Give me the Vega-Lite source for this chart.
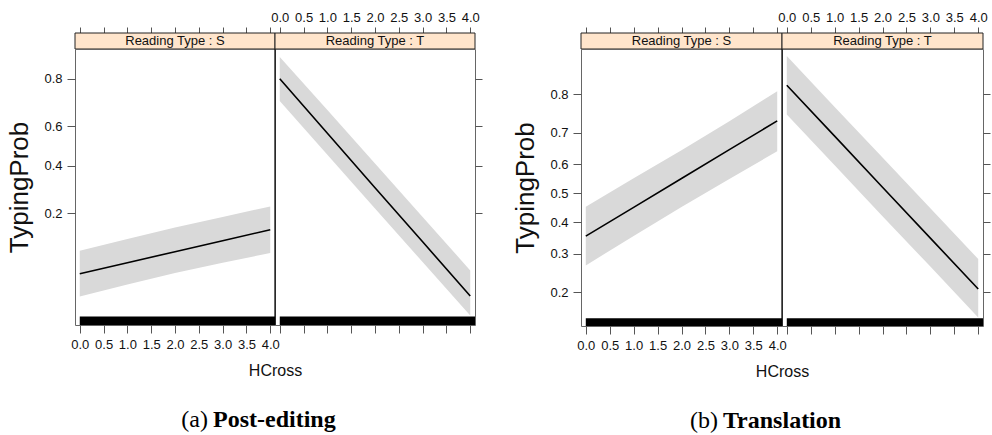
{
  "$schema": "https://vega.github.io/schema/vega-lite/v6.json",
  "background": "white",
  "padding": {"left": 6, "top": 11, "right": 0, "bottom": 0},
  "config": {
    "font": "Liberation Sans",
    "view": {"stroke": "#666", "strokeWidth": 1},
    "axis": {"grid": false, "domain": false, "labelFont": "Liberation Sans", "labelFontSize": 13, "labelColor": "#111", "tickColor": "#555", "tickSize": 7, "labelPadding": 4, "titleFont": "Liberation Sans", "titleFontWeight": "normal", "titleColor": "#111", "labelFlush": false, "labelOverlap": false}
  },
  "datasets": {
    "effects": [
      {"fig": "a", "panel": "S", "HCross": 0, "logit_TypingProb": -2.627, "logit_lower": -3.094, "logit_upper": -2.153},
      {"fig": "a", "panel": "S", "HCross": 1, "logit_TypingProb": -2.4, "logit_lower": -2.85, "logit_upper": -1.91},
      {"fig": "a", "panel": "S", "HCross": 2, "logit_TypingProb": -2.174, "logit_lower": -2.612, "logit_upper": -1.674},
      {"fig": "a", "panel": "S", "HCross": 3, "logit_TypingProb": -1.95, "logit_lower": -2.4, "logit_upper": -1.46},
      {"fig": "a", "panel": "S", "HCross": 4, "logit_TypingProb": -1.721, "logit_lower": -2.201, "logit_upper": -1.242},
      {"fig": "a", "panel": "T", "HCross": 0, "logit_TypingProb": 1.386, "logit_lower": 0.927, "logit_upper": 1.832},
      {"fig": "a", "panel": "T", "HCross": 1, "logit_TypingProb": 0.265, "logit_lower": -0.18, "logit_upper": 0.74},
      {"fig": "a", "panel": "T", "HCross": 2, "logit_TypingProb": -0.857, "logit_lower": -1.287, "logit_upper": -0.357},
      {"fig": "a", "panel": "T", "HCross": 3, "logit_TypingProb": -1.97, "logit_lower": -2.386, "logit_upper": -1.458},
      {"fig": "a", "panel": "T", "HCross": 4, "logit_TypingProb": -3.086, "logit_lower": -3.485, "logit_upper": -2.559},
      {"fig": "b", "panel": "S", "HCross": 0, "logit_TypingProb": -0.602, "logit_lower": -1.013, "logit_upper": -0.19},
      {"fig": "b", "panel": "S", "HCross": 1, "logit_TypingProb": -0.2, "logit_lower": -0.6, "logit_upper": 0.21},
      {"fig": "b", "panel": "S", "HCross": 2, "logit_TypingProb": 0.206, "logit_lower": -0.193, "logit_upper": 0.602},
      {"fig": "b", "panel": "S", "HCross": 3, "logit_TypingProb": 0.61, "logit_lower": 0.2, "logit_upper": 1.01},
      {"fig": "b", "panel": "S", "HCross": 4, "logit_TypingProb": 1.014, "logit_lower": 0.588, "logit_upper": 1.429},
      {"fig": "b", "panel": "T", "HCross": 0, "logit_TypingProb": 1.513, "logit_lower": 1.102, "logit_upper": 1.924},
      {"fig": "b", "panel": "T", "HCross": 1, "logit_TypingProb": 0.8, "logit_lower": 0.39, "logit_upper": 1.21},
      {"fig": "b", "panel": "T", "HCross": 2, "logit_TypingProb": 0.084, "logit_lower": -0.322, "logit_upper": 0.5},
      {"fig": "b", "panel": "T", "HCross": 3, "logit_TypingProb": -0.63, "logit_lower": -1.03, "logit_upper": -0.21},
      {"fig": "b", "panel": "T", "HCross": 4, "logit_TypingProb": -1.345, "logit_lower": -1.745, "logit_upper": -0.924}
    ]
  },
  "hconcat": [
    {
      "vconcat": [
        {
          "concat": [
            {
              "width": 200, "height": 16,
              "view": {"stroke": null},
              "data": {"values": [{"strip": "Reading Type : S"}]},
              "layer": [
                {"mark": {"type": "rect", "fill": "#ffe5cc", "stroke": "#222", "strokeWidth": 1},
                 "encoding": {
                   "x": {"datum": -0.1, "type": "quantitative", "scale": {"domain": [-0.1, 4.1], "nice": false, "zero": false},
                         "axis": {"orient": "top", "values": [0, 0.5, 1, 1.5, 2, 2.5, 3, 3.5, 4], "tickCount": 9, "labels": false, "tickSize": 6, "title": null}},
                   "x2": {"datum": 4.1}
                 }},
                {"mark": {"type": "text", "font": "Liberation Sans", "fontSize": 13, "color": "#111"},
                 "encoding": {"x": {"datum": 2, "type": "quantitative"}, "text": {"field": "strip"}}}
              ]
            },
            {
              "width": 200, "height": 16,
              "view": {"stroke": null},
              "data": {"values": [{"strip": "Reading Type : T"}]},
              "layer": [
                {"mark": {"type": "rect", "fill": "#ffe5cc", "stroke": "#222", "strokeWidth": 1},
                 "encoding": {
                   "x": {"datum": -0.1, "type": "quantitative", "scale": {"domain": [-0.1, 4.1], "nice": false, "zero": false},
                         "axis": {"orient": "top", "values": [0, 0.5, 1, 1.5, 2, 2.5, 3, 3.5, 4], "tickCount": 9, "format": ".1f", "tickSize": 6, "labelPadding": 3, "labelOverlap": false, "labelFlush": false, "title": null}},
                   "x2": {"datum": 4.1}
                 }},
                {"mark": {"type": "text", "font": "Liberation Sans", "fontSize": 13, "color": "#111"},
                 "encoding": {"x": {"datum": 2, "type": "quantitative"}, "text": {"field": "strip"}}}
              ]
            },
            {
              "width": 200, "height": 276,
              "layer": [
                {"data": {"name": "effects"}, "transform": [{"filter": "datum.fig == 'a' && datum.panel == 'S'"}],
                 "mark": {"type": "area", "color": "#d9d9d9", "opacity": 1},
                 "encoding": {
                   "x": {"field": "HCross", "type": "quantitative", "scale": {"domain": [-0.1, 4.1], "nice": false, "zero": false},
                         "axis": {"orient": "bottom", "values": [0, 0.5, 1, 1.5, 2, 2.5, 3, 3.5, 4], "tickCount": 9, "format": ".1f", "tickSize": 8, "labelPadding": 5, "labelOverlap": false, "labelFlush": false, "title": "HCross", "titleFontSize": 16, "titleX": 200, "titleAlign": "center", "titlePadding": 11}},
                   "y": {"field": "logit_lower", "type": "quantitative", "title": "TypingProb", "scale": {"domain": [-3.682, 1.997], "nice": false, "zero": false},
                         "axis": {"orient": "left", "values": [-1.3863, -0.4055, 0.4055, 1.3863], "labelExpr": "format(1/(1+exp(-datum.value)), '.1f')", "labelOverlap": false, "tickSize": 8, "labelPadding": 5, "titleFontSize": 26, "titlePadding": 11}},
                   "y2": {"field": "logit_upper"}
                 }},
                {"data": {"name": "effects"}, "transform": [{"filter": "datum.fig == 'a' && datum.panel == 'S'"}],
                 "mark": {"type": "line", "color": "#000", "strokeWidth": 1.6},
                 "encoding": {
                   "x": {"field": "HCross", "type": "quantitative", "title": "HCross"},
                   "y": {"field": "logit_TypingProb", "type": "quantitative", "title": "TypingProb"}
                 }},
                {"data": {"values": [{"rug": "HCross"}]},
                 "mark": {"type": "rect", "color": "#000"},
                 "encoding": {
                   "x": {"datum": 0, "type": "quantitative"}, "x2": {"datum": 4.1},
                   "y": {"datum": -3.682, "type": "quantitative"}, "y2": {"datum": -3.505}
                 }}
              ]
            },
            {
              "width": 200, "height": 276,
              "layer": [
                {"data": {"name": "effects"}, "transform": [{"filter": "datum.fig == 'a' && datum.panel == 'T'"}],
                 "mark": {"type": "area", "color": "#d9d9d9", "opacity": 1},
                 "encoding": {
                   "x": {"field": "HCross", "type": "quantitative", "scale": {"domain": [-0.1, 4.1], "nice": false, "zero": false},
                         "axis": {"orient": "bottom", "values": [0, 0.5, 1, 1.5, 2, 2.5, 3, 3.5, 4], "tickCount": 9, "labels": false, "tickSize": 8, "title": null}},
                   "y": {"field": "logit_lower", "type": "quantitative", "scale": {"domain": [-3.682, 1.997], "nice": false, "zero": false},
                         "axis": {"orient": "right", "values": [-1.3863, -0.4055, 0.4055, 1.3863], "labels": false, "tickSize": 7, "title": null}},
                   "y2": {"field": "logit_upper"}
                 }},
                {"data": {"name": "effects"}, "transform": [{"filter": "datum.fig == 'a' && datum.panel == 'T'"}],
                 "mark": {"type": "line", "color": "#000", "strokeWidth": 1.6},
                 "encoding": {
                   "x": {"field": "HCross", "type": "quantitative"},
                   "y": {"field": "logit_TypingProb", "type": "quantitative"}
                 }},
                {"data": {"values": [{"rug": "HCross"}]},
                 "mark": {"type": "rect", "color": "#000"},
                 "encoding": {
                   "x": {"datum": 0, "type": "quantitative"}, "x2": {"datum": 4.1},
                   "y": {"datum": -3.682, "type": "quantitative"}, "y2": {"datum": -3.505}
                 }},
                {"data": {"values": [{"divider": "panel"}]},
                 "mark": {"type": "rule", "color": "#000", "strokeWidth": 1.2},
                 "encoding": {"x": {"datum": -0.1, "type": "quantitative"}}}
              ]
            }
          ],
          "columns": 2,
          "spacing": {"row": 0, "column": 0},
          "bounds": "flush",
          "align": "each"
        },
        {
          "width": 400, "height": 30,
          "view": {"stroke": null},
          "data": {"values": [{"caption": "(a)", "part": "label"}, {"caption": "Post-editing", "part": "name"}]},
          "layer": [
            {"transform": [{"filter": "datum.part == 'label'"}],
             "mark": {"type": "text", "align": "right", "dx": -3, "font": "Liberation Serif", "fontSize": 24, "color": "#000"},
             "encoding": {"x": {"datum": 0.34, "type": "quantitative", "scale": {"domain": [0, 1]}, "axis": null}, "text": {"field": "caption"}}},
            {"transform": [{"filter": "datum.part == 'name'"}],
             "mark": {"type": "text", "align": "left", "dx": 2, "font": "Liberation Serif", "fontSize": 24, "fontWeight": "bold", "color": "#000"},
             "encoding": {"x": {"datum": 0.34, "type": "quantitative"}, "text": {"field": "caption"}}}
          ]
        }
      ],
      "spacing": 26
    },
    {
      "vconcat": [
        {
          "concat": [
            {
              "width": 201, "height": 16,
              "view": {"stroke": null},
              "data": {"values": [{"strip": "Reading Type : S"}]},
              "layer": [
                {"mark": {"type": "rect", "fill": "#ffe5cc", "stroke": "#222", "strokeWidth": 1},
                 "encoding": {
                   "x": {"datum": -0.1, "type": "quantitative", "scale": {"domain": [-0.1, 4.1], "nice": false, "zero": false},
                         "axis": {"orient": "top", "values": [0, 0.5, 1, 1.5, 2, 2.5, 3, 3.5, 4], "tickCount": 9, "labels": false, "tickSize": 6, "title": null}},
                   "x2": {"datum": 4.1}
                 }},
                {"mark": {"type": "text", "font": "Liberation Sans", "fontSize": 13, "color": "#111"},
                 "encoding": {"x": {"datum": 2, "type": "quantitative"}, "text": {"field": "strip"}}}
              ]
            },
            {
              "width": 201, "height": 16,
              "view": {"stroke": null},
              "data": {"values": [{"strip": "Reading Type : T"}]},
              "layer": [
                {"mark": {"type": "rect", "fill": "#ffe5cc", "stroke": "#222", "strokeWidth": 1},
                 "encoding": {
                   "x": {"datum": -0.1, "type": "quantitative", "scale": {"domain": [-0.1, 4.1], "nice": false, "zero": false},
                         "axis": {"orient": "top", "values": [0, 0.5, 1, 1.5, 2, 2.5, 3, 3.5, 4], "tickCount": 9, "format": ".1f", "tickSize": 6, "labelPadding": 3, "labelOverlap": false, "labelFlush": false, "title": null}},
                   "x2": {"datum": 4.1}
                 }},
                {"mark": {"type": "text", "font": "Liberation Sans", "fontSize": 13, "color": "#111"},
                 "encoding": {"x": {"datum": 2, "type": "quantitative"}, "text": {"field": "strip"}}}
              ]
            },
            {
              "width": 201, "height": 277,
              "layer": [
                {"data": {"name": "effects"}, "transform": [{"filter": "datum.fig == 'b' && datum.panel == 'S'"}],
                 "mark": {"type": "area", "color": "#d9d9d9", "opacity": 1},
                 "encoding": {
                   "x": {"field": "HCross", "type": "quantitative", "scale": {"domain": [-0.1, 4.1], "nice": false, "zero": false},
                         "axis": {"orient": "bottom", "values": [0, 0.5, 1, 1.5, 2, 2.5, 3, 3.5, 4], "tickCount": 9, "format": ".1f", "tickSize": 8, "labelPadding": 5, "labelOverlap": false, "labelFlush": false, "title": "HCross", "titleFontSize": 16, "titleX": 201, "titleAlign": "center", "titlePadding": 11}},
                   "y": {"field": "logit_lower", "type": "quantitative", "title": "TypingProb", "scale": {"domain": [-1.863, 2.022], "nice": false, "zero": false},
                         "axis": {"orient": "left", "values": [-1.3863, -0.8473, -0.4055, 0, 0.4055, 0.8473, 1.3863], "tickCount": 7, "labelExpr": "format(1/(1+exp(-datum.value)), '.1f')", "labelOverlap": false, "tickSize": 8, "labelPadding": 5, "titleFontSize": 26, "titlePadding": 11}},
                   "y2": {"field": "logit_upper"}
                 }},
                {"data": {"name": "effects"}, "transform": [{"filter": "datum.fig == 'b' && datum.panel == 'S'"}],
                 "mark": {"type": "line", "color": "#000", "strokeWidth": 1.6},
                 "encoding": {
                   "x": {"field": "HCross", "type": "quantitative", "title": "HCross"},
                   "y": {"field": "logit_TypingProb", "type": "quantitative", "title": "TypingProb"}
                 }},
                {"data": {"values": [{"rug": "HCross"}]},
                 "mark": {"type": "rect", "color": "#000"},
                 "encoding": {
                   "x": {"datum": 0, "type": "quantitative"}, "x2": {"datum": 4.1},
                   "y": {"datum": -1.863, "type": "quantitative"}, "y2": {"datum": -1.755}
                 }}
              ]
            },
            {
              "width": 201, "height": 277,
              "layer": [
                {"data": {"name": "effects"}, "transform": [{"filter": "datum.fig == 'b' && datum.panel == 'T'"}],
                 "mark": {"type": "area", "color": "#d9d9d9", "opacity": 1},
                 "encoding": {
                   "x": {"field": "HCross", "type": "quantitative", "scale": {"domain": [-0.1, 4.1], "nice": false, "zero": false},
                         "axis": {"orient": "bottom", "values": [0, 0.5, 1, 1.5, 2, 2.5, 3, 3.5, 4], "tickCount": 9, "labels": false, "tickSize": 8, "title": null}},
                   "y": {"field": "logit_lower", "type": "quantitative", "scale": {"domain": [-1.863, 2.022], "nice": false, "zero": false},
                         "axis": {"orient": "right", "values": [-1.3863, -0.8473, -0.4055, 0, 0.4055, 0.8473, 1.3863], "tickCount": 7, "labels": false, "tickSize": 7, "title": null}},
                   "y2": {"field": "logit_upper"}
                 }},
                {"data": {"name": "effects"}, "transform": [{"filter": "datum.fig == 'b' && datum.panel == 'T'"}],
                 "mark": {"type": "line", "color": "#000", "strokeWidth": 1.6},
                 "encoding": {
                   "x": {"field": "HCross", "type": "quantitative"},
                   "y": {"field": "logit_TypingProb", "type": "quantitative"}
                 }},
                {"data": {"values": [{"rug": "HCross"}]},
                 "mark": {"type": "rect", "color": "#000"},
                 "encoding": {
                   "x": {"datum": 0, "type": "quantitative"}, "x2": {"datum": 4.1},
                   "y": {"datum": -1.863, "type": "quantitative"}, "y2": {"datum": -1.755}
                 }},
                {"data": {"values": [{"divider": "panel"}]},
                 "mark": {"type": "rule", "color": "#000", "strokeWidth": 1.2},
                 "encoding": {"x": {"datum": -0.1, "type": "quantitative"}}}
              ]
            }
          ],
          "columns": 2,
          "spacing": {"row": 0, "column": 0},
          "bounds": "flush",
          "align": "each"
        },
        {
          "width": 402, "height": 30,
          "view": {"stroke": null},
          "data": {"values": [{"caption": "(b)", "part": "label"}, {"caption": "Translation", "part": "name"}]},
          "layer": [
            {"transform": [{"filter": "datum.part == 'label'"}],
             "mark": {"type": "text", "align": "right", "dx": -3, "font": "Liberation Serif", "fontSize": 24, "color": "#000"},
             "encoding": {"x": {"datum": 0.348, "type": "quantitative", "scale": {"domain": [0, 1]}, "axis": null}, "text": {"field": "caption"}}},
            {"transform": [{"filter": "datum.part == 'name'"}],
             "mark": {"type": "text", "align": "left", "dx": 2, "font": "Liberation Serif", "fontSize": 24, "fontWeight": "bold", "color": "#000"},
             "encoding": {"x": {"datum": 0.348, "type": "quantitative"}, "text": {"field": "caption"}}}
          ]
        }
      ],
      "spacing": 26
    }
  ],
  "spacing": 29,
  "resolve": {"scale": {"x": "independent", "y": "independent"}}
}
